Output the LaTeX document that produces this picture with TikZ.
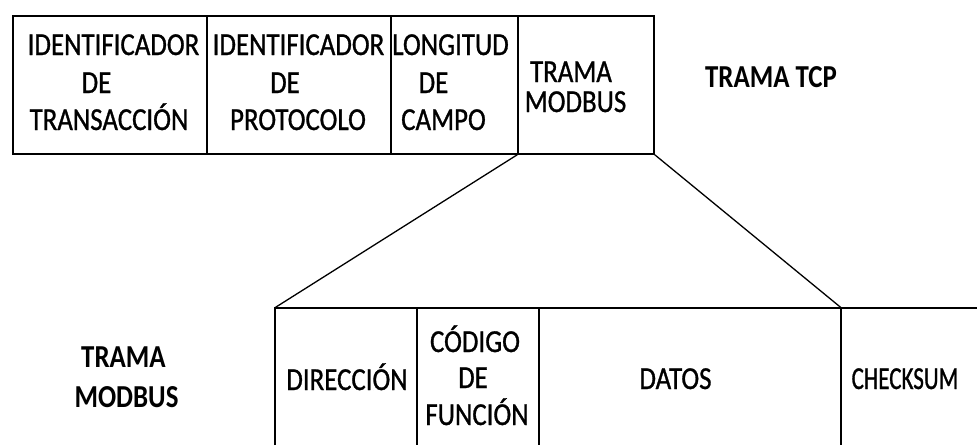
\documentclass[tikz,border=0pt]{standalone}
\usepackage{fontspec}
\setmainfont{Carlito}[FakeStretch=0.84]
\newfontfamily\regf{Carlito}[FakeStretch=0.84,FakeBold=0.9]
\newfontfamily\narf{Carlito}[FakeStretch=0.72,FakeBold=0.9]
\begin{document}
\begin{tikzpicture}[x=1pt,y=-1pt,
  cell/.style={draw=black,line width=1.5pt,inner sep=0pt,minimum height=138pt},
  bcell/.style={draw=none,inner sep=0pt,minimum height=137pt},
  edge/.style={draw=black,line width=1.5pt},
  lbl/.style={inner sep=0pt,anchor=base,font=\fontsize{32}{37}\regf},
  nlbl/.style={inner sep=0pt,anchor=base,font=\fontsize{32}{37}\narf},
  blbl/.style={inner sep=0pt,anchor=base,font=\fontsize{32}{37}\selectfont\bfseries}]
\useasboundingbox[fill=white] (0,0) rectangle (977,445);
% top frame
\node[cell,minimum width=194pt] (c1) at (110,85) {};
\node[cell,minimum width=184pt] (c2) at (299,85) {};
\node[cell,minimum width=127pt] (c3) at (454.5,85) {};
\node[cell,minimum width=136pt] (c4) at (586,85) {};
% bottom frame
\node[bcell,minimum width=142pt] (d1) at (346,376.5) {};
\node[bcell,minimum width=122pt] (d2) at (478,376.5) {};
\node[bcell,minimum width=302pt] (d3) at (690,376.5) {};
\node[bcell,minimum width=136pt] (d4) at (909,376.5) {};
\draw[edge] (d1.south west) -- (d1.north west) -- (d4.north east);
\draw[edge] (d1.north east) -- (d1.south east);
\draw[edge] (d2.north east) -- (d2.south east);
\draw[edge] (d3.north east) -- (d3.south east);
% connectors
\draw[edge,line width=1.3pt] (c4.south west) -- (d1.north west);
\draw[edge,line width=1.3pt] (c4.south east) -- (d3.north east);
% top texts
\node[lbl] (t1a) at (113.5,55) {IDENTIFICADOR};
\node[lbl] (t1b) at (96.5,93) {DE};
\node[lbl] (t1c) at (109,130) {TRANSACCIÓN};
\node[lbl] (t2a) at (298.5,55) {IDENTIFICADOR};
\node[lbl] (t2b) at (285,93) {DE};
\node[lbl] (t2c) at (298,130) {PROTOCOLO};
\node[lbl] (t3a) at (450.5,55) {LONGITUD};
\node[lbl] (t3b) at (433.5,93) {DE};
\node[lbl] (t3c) at (443.5,130) {CAMPO};
\node[lbl] (t4a) at (571,82) {TRAMA};
\node[lbl] (t4b) at (575.5,112) {MODBUS};
\node[blbl] (tcp) at (771,87) {TRAMA TCP};
% bottom texts
\node[blbl] (m1) at (123.5,367) {TRAMA};
\node[blbl] (m2) at (126.5,407) {MODBUS};
\node[lbl] (b1) at (347,390) {DIRECCIÓN};
\node[lbl] (b2a) at (475,352) {CÓDIGO};
\node[lbl] (b2b) at (473,388) {DE};
\node[lbl] (b2c) at (477,425) {FUNCIÓN};
\node[lbl] (b3) at (675.5,389) {DATOS};
\node[nlbl] (b4) at (905,389) {CHECKSUM};
\end{tikzpicture}
\end{document}
